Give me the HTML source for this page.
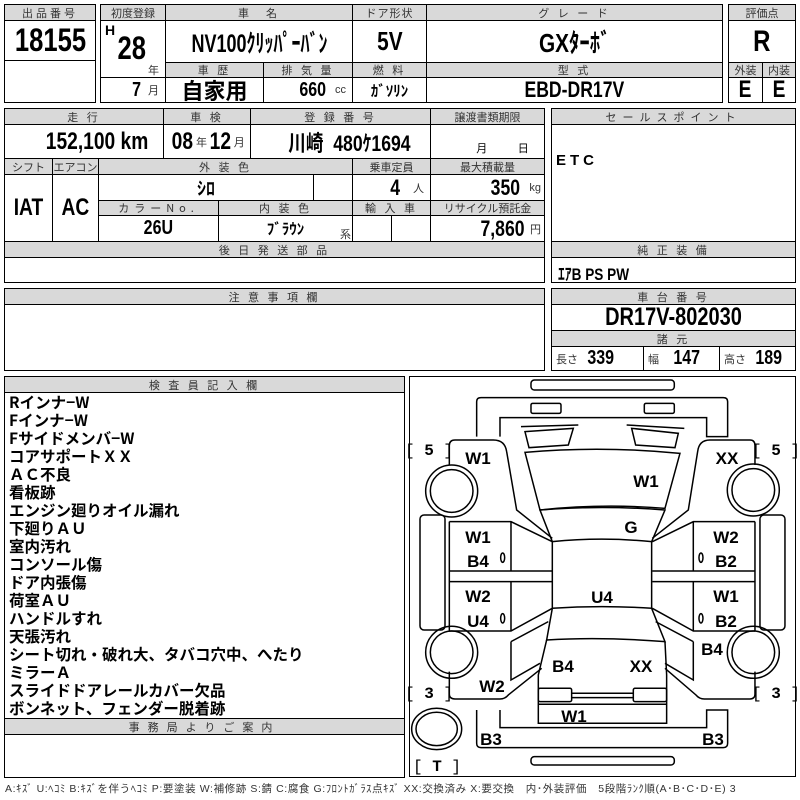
<!DOCTYPE html>
<html><head><meta charset="utf-8"><style>
*{margin:0;padding:0;box-sizing:border-box}
body{width:800px;height:800px;background:#fff;position:relative;overflow:hidden;font-family:"Liberation Sans","Noto Sans CJK JP",sans-serif;color:#000}
.c{position:absolute;border:1.5px solid #000;background:#fff;display:flex;align-items:center;justify-content:center;font-weight:bold;white-space:nowrap}
.h{position:absolute;border:1.5px solid #000;background:#d9d9d9;display:flex;align-items:center;justify-content:center;font-size:11px;letter-spacing:3px;color:#333;white-space:nowrap;font-family:"Noto Sans CJK JP",sans-serif}
.t{position:absolute;white-space:nowrap}
.n{font-family:"Liberation Sans","Noto Sans CJK JP",sans-serif;font-weight:bold;transform:scaleX(.8);display:inline-block}
.s{font-size:11px;font-weight:normal;color:#333}
.list{position:absolute;left:9px;top:393px;font-family:"Noto Sans CJK JP",sans-serif;font-size:15.5px;font-weight:bold;line-height:18px}
</style></head><body>
<div class="h" style="left:4px;top:4px;width:92px;height:17px">出品番号</div>
<div class="c" style="left:4px;top:20px;width:92px;height:41px;font-size:32px"><span class="n">18155</span></div>
<div class="c" style="left:4px;top:60px;width:92px;height:43px"></div>

<div class="h" style="left:100px;top:4px;width:66px;height:17px;letter-spacing:0">初度登録</div>
<div class="h" style="left:165px;top:4px;width:188px;height:17px">車　名</div>
<div class="h" style="left:352px;top:4px;width:75px;height:17px;letter-spacing:1px">ドア形状</div>
<div class="h" style="left:426px;top:4px;width:297px;height:17px">グ レ ー ド</div>
<div class="c" style="left:100px;top:20px;width:66px;height:58px"></div>
<div class="t" style="left:105px;top:22px;font-size:14px;font-weight:bold">H</div>
<div class="t" style="left:114px;top:30px;font-size:32px;font-weight:bold"><span class="n">28</span></div>
<div class="t s" style="left:148px;top:62px">年</div>
<div class="c" style="left:100px;top:77px;width:66px;height:26px;justify-content:flex-end;padding-right:6px;font-size:20px"><span class="n">7</span>&nbsp;<span class="s">月</span></div>
<div class="c" style="left:165px;top:20px;width:188px;height:43px;font-size:25px"><span class="n" style="transform:scaleX(.72)">NV100ｸﾘｯﾊﾟｰﾊﾞﾝ</span></div>
<div class="c" style="left:352px;top:20px;width:75px;height:43px;font-size:26px"><span class="n">5V</span></div>
<div class="c" style="left:426px;top:20px;width:297px;height:43px;font-size:26px"><span class="n">GXﾀｰﾎﾞ</span></div>
<div class="h" style="left:165px;top:62px;width:99px;height:16px">車 歴</div>
<div class="h" style="left:263px;top:62px;width:90px;height:16px">排 気 量</div>
<div class="h" style="left:352px;top:62px;width:75px;height:16px">燃 料</div>
<div class="h" style="left:426px;top:62px;width:297px;height:16px">型 式</div>
<div class="c" style="left:165px;top:77px;width:99px;height:26px;font-size:22px;font-family:'Noto Sans CJK JP',sans-serif">自家用</div>
<div class="c" style="left:263px;top:77px;width:90px;height:26px;justify-content:flex-end;padding-right:6px;font-size:20px"><span class="n">660</span>&nbsp;<span class="s">cc</span></div>
<div class="c" style="left:352px;top:77px;width:75px;height:26px;font-size:15px">ｶﾞｿﾘﾝ</div>
<div class="c" style="left:426px;top:77px;width:297px;height:26px;font-size:22px"><span class="n">EBD-DR17V</span></div>

<div class="h" style="left:728px;top:4px;width:68px;height:17px;letter-spacing:0">評価点</div>
<div class="c" style="left:728px;top:20px;width:68px;height:43px;font-size:30px"><span class="n">R</span></div>
<div class="h" style="left:728px;top:62px;width:35px;height:16px;letter-spacing:0">外装</div>
<div class="h" style="left:762px;top:62px;width:34px;height:16px;letter-spacing:0">内装</div>
<div class="c" style="left:728px;top:77px;width:35px;height:26px;font-size:24px"><span class="n">E</span></div>
<div class="c" style="left:762px;top:77px;width:34px;height:26px;font-size:24px"><span class="n">E</span></div>

<div class="h" style="left:4px;top:108px;width:160px;height:17px">走 行</div>
<div class="h" style="left:163px;top:108px;width:88px;height:17px">車 検</div>
<div class="h" style="left:250px;top:108px;width:181px;height:17px">登 録 番 号</div>
<div class="h" style="left:430px;top:108px;width:115px;height:17px;letter-spacing:0">譲渡書類期限</div>
<div class="c" style="left:4px;top:124px;width:160px;height:35px;justify-content:flex-end;padding-right:2px;font-size:24px"><span class="n">152,100 km</span></div>
<div class="c" style="left:163px;top:124px;width:88px;height:35px;font-size:24px"><span class="n">08</span><span class="s">年</span><span class="n">12</span><span class="s">月</span></div>
<div class="c" style="left:250px;top:124px;width:181px;height:35px;justify-content:flex-end;padding-right:4px;font-size:22px"><span class="n">川崎&nbsp;&nbsp;480ｹ1694</span></div>
<div class="c" style="left:430px;top:124px;width:115px;height:35px;align-items:flex-end;justify-content:space-around;font-size:11px;font-weight:normal;padding-bottom:2px"><span style="margin-left:30px">月</span><span>日</span></div>
<div class="h" style="left:4px;top:158px;width:49px;height:17px;letter-spacing:0">シフト</div>
<div class="h" style="left:52px;top:158px;width:47px;height:17px;letter-spacing:0">エアコン</div>
<div class="h" style="left:98px;top:158px;width:255px;height:17px">外 装 色</div>
<div class="h" style="left:352px;top:158px;width:79px;height:17px;letter-spacing:0">乗車定員</div>
<div class="h" style="left:430px;top:158px;width:115px;height:17px;letter-spacing:0">最大積載量</div>
<div class="c" style="left:4px;top:174px;width:49px;height:68px;font-size:24px"><span class="n">IAT</span></div>
<div class="c" style="left:52px;top:174px;width:47px;height:68px;font-size:24px"><span class="n">AC</span></div>
<div class="c" style="left:98px;top:174px;width:216px;height:27px;font-size:18px">ｼﾛ</div>
<div class="c" style="left:313px;top:174px;width:40px;height:27px"></div>
<div class="c" style="left:352px;top:174px;width:79px;height:27px;justify-content:flex-end;padding-right:6px;font-size:22px"><span class="n">4</span>&nbsp;&nbsp;<span class="s">人</span></div>
<div class="c" style="left:430px;top:174px;width:115px;height:27px;justify-content:flex-end;padding-right:3px;font-size:22px"><span class="n">350</span>&nbsp;<span class="s">kg</span></div>
<div class="h" style="left:98px;top:200px;width:121px;height:16px;letter-spacing:5px">カラーNo.</div>
<div class="h" style="left:218px;top:200px;width:135px;height:16px">内 装 色</div>
<div class="h" style="left:352px;top:200px;width:79px;height:16px">輸 入 車</div>
<div class="h" style="left:430px;top:200px;width:115px;height:16px;letter-spacing:0">リサイクル預託金</div>
<div class="c" style="left:98px;top:215px;width:121px;height:27px;font-size:20px"><span class="n">26U</span></div>
<div class="c" style="left:218px;top:215px;width:135px;height:27px;font-size:15px">ﾌﾞﾗｳﾝ</div>
<div class="t s" style="left:340px;top:226px">系</div>
<div class="c" style="left:352px;top:215px;width:40px;height:27px"></div>
<div class="c" style="left:391px;top:215px;width:40px;height:27px"></div>
<div class="c" style="left:430px;top:215px;width:115px;height:27px;justify-content:flex-end;padding-right:3px;font-size:22px"><span class="n">7,860</span><span class="s">円</span></div>
<div class="h" style="left:4px;top:241px;width:541px;height:17px">後 日 発 送 部 品</div>
<div class="c" style="left:4px;top:257px;width:541px;height:26px"></div>

<div class="c" style="left:551px;top:108px;width:245px;height:175px"></div>
<div class="h" style="left:551px;top:108px;width:245px;height:17px;letter-spacing:6px">セールスポイント</div>
<div class="t" style="left:556px;top:152px;font-size:15px;font-weight:bold;letter-spacing:4px">ETC</div>
<div class="h" style="left:551px;top:241px;width:245px;height:17px">純 正 装 備</div>
<div class="t" style="left:558px;top:260px;font-size:17px"><span class="n" style="transform-origin:left">ｴｱB PS PW</span></div>

<div class="c" style="left:4px;top:288px;width:541px;height:83px"></div>
<div class="h" style="left:4px;top:288px;width:541px;height:17px">注 意 事 項 欄</div>
<div class="c" style="left:551px;top:288px;width:245px;height:83px"></div>
<div class="h" style="left:551px;top:288px;width:245px;height:17px">車 台 番 号</div>
<div class="t" style="left:551px;top:304px;width:245px;text-align:center;font-size:25px;line-height:27px"><span class="n">DR17V-802030</span></div>
<div class="h" style="left:551px;top:330px;width:245px;height:17px">諸 元</div>
<div class="c" style="left:551px;top:346px;width:93px;height:25px;justify-content:flex-start;padding-left:4px;font-size:20px"><span class="s">長さ</span>&nbsp;<span class="n">339</span></div>
<div class="c" style="left:643px;top:346px;width:77px;height:25px;justify-content:flex-start;padding-left:4px;font-size:20px"><span class="s">幅</span>&nbsp;&nbsp;<span class="n">147</span></div>
<div class="c" style="left:719px;top:346px;width:77px;height:25px;justify-content:flex-start;padding-left:4px;font-size:20px"><span class="s">高さ</span>&nbsp;<span class="n">189</span></div>

<div class="c" style="left:4px;top:376px;width:401px;height:402px"></div>
<div class="h" style="left:4px;top:376px;width:401px;height:17px">検 査 員 記 入 欄</div>
<div class="list">Rインナ−W<br>Fインナ−W<br>Fサイドメンバ−W<br>コアサポートＸＸ<br>ＡＣ不良<br>看板跡<br>エンジン廻りオイル漏れ<br>下廻りＡＵ<br>室内汚れ<br>コンソール傷<br>ドア内張傷<br>荷室ＡＵ<br>ハンドルすれ<br>天張汚れ<br>シート切れ・破れ大、タバコ穴中、へたり<br>ミラーＡ<br>スライドドアレールカバー欠品<br>ボンネット、フェンダー脱着跡</div>
<div class="h" style="left:4px;top:718px;width:401px;height:17px;letter-spacing:8px">事務局よりご案内</div>

<div class="c" style="left:409px;top:376px;width:387px;height:401px"></div>
<svg style="position:absolute;left:0;top:0" width="800" height="800">
<g transform="translate(405 375) scale(0.3333)" fill="none" stroke="#000" stroke-width="4.5">
<rect x="378" y="15" width="430" height="30" rx="10"/>
<path d="M215,185 L215,80 Q215,68 228,68 L955,68 Q968,68 968,80 L968,185 L905,185 L905,128 L285,128 L285,185"/>
<rect x="378" y="85" width="90" height="30" rx="5"/>
<rect x="718" y="85" width="90" height="30" rx="5"/>
<path d="M348,155 L520,150 M665,150 L838,160"/>
<path d="M360,170 L505,160 L490,210 L372,218 Z M680,160 L820,175 L810,218 L692,210 Z"/>
<path d="M360,232 Q590,212 825,235 L780,400 Q590,385 405,405 Z"/>
<path d="M405,405 Q590,390 780,405 L740,500 Q590,485 442,500 Z"/>
<path d="M442,500 L442,700 M740,500 L740,700"/>
<path d="M442,700 Q590,690 740,700 L780,800 Q590,785 425,795 Z"/>
<path d="M425,795 L400,900 L400,1045 L785,1045 L785,900 L780,800"/>
<rect x="400" y="940" width="100" height="40" rx="5"/>
<rect x="685" y="940" width="100" height="40" rx="5"/>
<path d="M500,955 L685,955 M500,968 L685,968 M400,988 L785,988"/>
<path d="M133,270 L133,212 Q133,195 150,195 L265,195 Q300,195 305,230 L335,405 L442,490"/>
<path d="M1050,270 L1050,212 Q1050,195 1035,195 L915,195 Q882,195 878,230 L850,405 L742,490"/>
<circle cx="140" cy="348" r="78"/><circle cx="140" cy="348" r="64"/>
<circle cx="1045" cy="345" r="78"/><circle cx="1045" cy="345" r="64"/>
<circle cx="140" cy="832" r="78"/><circle cx="140" cy="832" r="64"/>
<circle cx="1045" cy="832" r="78"/><circle cx="1045" cy="832" r="64"/>
<ellipse cx="95" cy="1062" rx="75" ry="62"/><ellipse cx="95" cy="1062" rx="62" ry="50"/>
<rect x="45" y="420" width="75" height="345" rx="12"/>
<rect x="1065" y="420" width="75" height="345" rx="12"/>
<path d="M133,440 L318,440 L442,500 M133,588 L442,588 M133,620 L442,620 M133,768 L318,768 L442,700 M133,440 L133,768 M318,440 L318,588 M318,620 L318,768"/>
<path d="M1050,440 L865,440 L742,500 M1050,588 L742,588 M1050,620 L742,620 M1050,768 L865,768 L742,700 M1050,440 L1050,768 M865,440 L865,588 M865,620 L865,768"/>
<path d="M318,800 L318,915 L405,865 M318,800 L430,740"/>
<path d="M133,890 L133,958 Q133,972 150,972 L285,972 Q300,972 310,960 L410,880"/>
<path d="M865,800 L865,915 L780,865 M865,800 L752,740"/>
<path d="M1050,890 L1050,958 Q1050,972 1035,972 L898,972 Q883,972 873,960 L780,880"/>
<path d="M215,1005 L215,1105 Q215,1118 228,1118 L955,1118 Q968,1118 968,1105 L968,1005 L905,1005 L905,1058 L285,1058 L285,1005"/>
<rect x="378" y="1145" width="430" height="25" rx="10"/>
<ellipse cx="293" cy="548" rx="6" ry="14"/><ellipse cx="888" cy="548" rx="6" ry="14"/>
<ellipse cx="293" cy="730" rx="6" ry="14"/><ellipse cx="888" cy="730" rx="6" ry="14"/>
</g>
<g font-family="Liberation Sans,sans-serif" font-weight="bold" font-size="17" text-anchor="middle">
<text x="478" y="464">W1</text><text x="727" y="464">XX</text><text x="646" y="487">W1</text>
<text x="631" y="533">G</text>
<text x="478" y="543">W1</text><text x="478" y="567">B4</text>
<text x="726" y="543">W2</text><text x="726" y="567">B2</text>
<text x="478" y="602">W2</text><text x="478" y="627">U4</text>
<text x="726" y="602">W1</text><text x="726" y="627">B2</text>
<text x="602" y="603">U4</text><text x="712" y="655">B4</text>
<text x="563" y="672">B4</text><text x="641" y="672">XX</text>
<text x="492" y="692">W2</text><text x="574" y="722">W1</text>
<text x="491" y="745">B3</text><text x="713" y="745">B3</text>
</g>
<g font-family="Liberation Mono,monospace" font-size="16" text-anchor="middle">
<text x="429" y="455">[ <tspan font-weight="bold">5</tspan> ]</text>
<text x="776" y="455">[ <tspan font-weight="bold">5</tspan> ]</text>
<text x="429" y="698">[ <tspan font-weight="bold">3</tspan> ]</text>
<text x="776" y="698">[ <tspan font-weight="bold">3</tspan> ]</text>
<text x="437" y="771">[ <tspan font-weight="bold">T</tspan> ]</text>
</g>
</svg>
<div class="t" style="left:5px;top:781px;font-size:10.5px;letter-spacing:0.6px;color:#333;font-family:'Liberation Sans','Noto Sans CJK JP',sans-serif">A:ｷｽﾞ U:ﾍｺﾐ B:ｷｽﾞを伴うﾍｺﾐ P:要塗装 W:補修跡 S:錆 C:腐食 G:ﾌﾛﾝﾄｶﾞﾗｽ点ｷｽﾞ XX:交換済み X:要交換　内･外装評価　5段階ﾗﾝｸ順(A･B･C･D･E) 3</div>
</body></html>
